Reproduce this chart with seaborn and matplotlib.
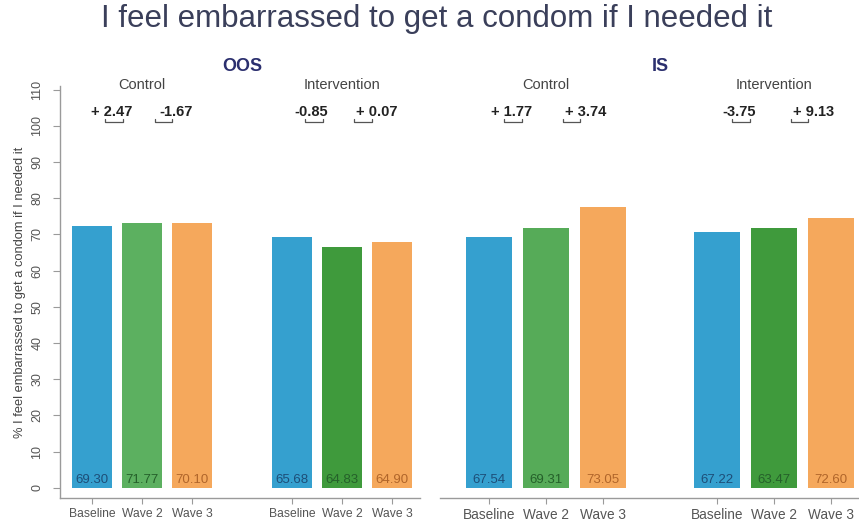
import matplotlib
matplotlib.use("Agg")
import matplotlib.pyplot as plt
import seaborn as sns
import pandas as pd
import numpy as np

# ---- data ----
title = "I feel embarrassed to get a condom if I needed it"
ylabel = "% I feel embarrassed to get a condom if I needed it"
panels = ["OOS", "IS"]
groups = ["Control", "Intervention"]
waves = ["Baseline", "Wave 2", "Wave 3"]
# bar heights as drawn (per panel: control x3, intervention x3)
oos_heights = [72.4, 73.2, 73.1, 69.3, 66.6, 67.9]
is_heights = [69.3, 71.8, 77.6, 70.7, 71.8, 74.6]
# labels printed inside the bars
oos_labels = ["69.30", "71.77", "70.10", "65.68", "64.83", "64.90"]
is_labels = ["67.54", "69.31", "73.05", "67.22", "63.47", "72.60"]
# change annotations (control: w2, w3 ; intervention: w2, w3)
oos_changes = ["+ 2.47", "-1.67", "-0.85", "+ 0.07"]
is_changes = ["+ 1.77", "+ 3.74", "-3.75", "+ 9.13"]
yticks = list(range(0, 111, 10))

# ---- style ----
sns.set_theme(style="white")
plt.rcParams["font.family"] = ["Liberation Sans", "DejaVu Sans"]

blue = "#35a0cf"
orange = "#f5a85c"
oos_colors = [blue, "#5cb060", orange, blue, "#3f9a3c", orange]
is_colors = [blue, "#56ab58", orange, blue, "#3f9a3c", orange]
label_colors = {blue: "#1d4e78", orange: "#b0652a"}
axis_gray = "#9a9a9a"

W, H = 859, 523
fig = plt.figure(figsize=(W / 100, H / 100), dpi=100)
fig.patch.set_facecolor("white")

ylo, yhi = -2.8, 111.0
ax_bottom = 25 / H
ax_height = (498 - 86) / H


def draw_panel(ax, heights, labels, colors, changes, panel_name, show_y,
               px_per_unit, xfs):
    pos = [g * 4 + w for g in range(len(groups)) for w in range(len(waves))]
    df = pd.DataFrame({"pos": pos, "value": heights, "bar": [str(i) for i in range(len(pos))]})
    sns.barplot(data=df, x="pos", y="value", hue="bar", palette=colors,
                native_scale=True, width=0.8, dodge=False, legend=False,
                saturation=1, linewidth=0, ax=ax)
    ax.set_ylim(ylo, yhi)
    ax.set_xlabel("")
    ax.set_ylabel("")
    ax.set_xticks(pos)
    ax.set_xticklabels(waves * len(groups), fontsize=xfs, color="#555555")
    ax.tick_params(axis="x", length=4, width=0.8, color=axis_gray, pad=3, bottom=True)
    for s in ["top", "right"]:
        ax.spines[s].set_visible(False)
    ax.spines["bottom"].set_color(axis_gray)
    ax.spines["bottom"].set_linewidth(1.0)
    if show_y:
        ax.spines["left"].set_color(axis_gray)
        ax.spines["left"].set_linewidth(1.0)
        ax.set_yticks(yticks)
        ax.set_yticklabels([str(t) for t in yticks], rotation=90, va="center",
                           fontsize=9, color="#555555")
        ax.tick_params(axis="y", length=5, width=0.8, color=axis_gray, left=True, pad=7)
        ax.set_ylabel(ylabel, fontsize=9.3, color="#444444", labelpad=4)
    else:
        ax.spines["left"].set_visible(False)
        ax.set_yticks([])
    # bar labels
    for p, lab, c in zip(pos, labels, colors):
        tc = label_colors.get(c, "#25602a")
        ax.text(p, 2.2, lab, ha="center", va="center", fontsize=9.5, color=tc)
    # group headings and change annotations
    u = 1.0 / px_per_unit
    for gi, g in enumerate(groups):
        cx = gi * 4 + 1
        ax.text(cx, 111.3, g, ha="center", va="center", fontsize=10.5,
                color="#444444", clip_on=False)
        for k in range(2):
            txt = changes[gi * 2 + k]
            xx = gi * 4 + (0.39 if k == 0 else 1.69)
            ax.text(xx, 103.9, txt, ha="center", va="center", fontsize=10.5,
                    fontweight="bold", color="#222222", clip_on=False)
            # small bracket under the number
            if k == 0:
                x0, x1 = xx - 7 * u, xx + 11 * u
            else:
                x0, x1 = xx - 22 * u, xx - 5 * u
            ax.plot([x0, x0, x1, x1], [101.8, 101.0, 101.0, 101.8], color="#555555",
                    lw=0.9, clip_on=False)
    # panel heading
    ax.text(3, 116.3, panel_name, ha="center", va="center", fontsize=13,
            fontweight="bold", color="#2b2f6e", clip_on=False)


# left panel (OOS)
axL = fig.add_axes([60 / W, ax_bottom, 360 / W, ax_height])
draw_panel(axL, oos_heights, oos_labels, oos_colors, oos_changes, panels[0], True, 50.0, 8.7)
axL.set_xlim(-0.64, 6.56)

# right panel (IS)
axR = fig.add_axes([440 / W, ax_bottom, 419 / W, ax_height])
draw_panel(axR, is_heights, is_labels, is_colors, is_changes, panels[1], False, 57.0, 9.8)
axR.set_xlim(-0.86, 6.49)

fig.text(437 / W, 1 - 19 / H, title, ha="center", va="center", fontsize=22.5,
         color="#3a3f5a")

fig.savefig("out.png", dpi=100, facecolor="white")
